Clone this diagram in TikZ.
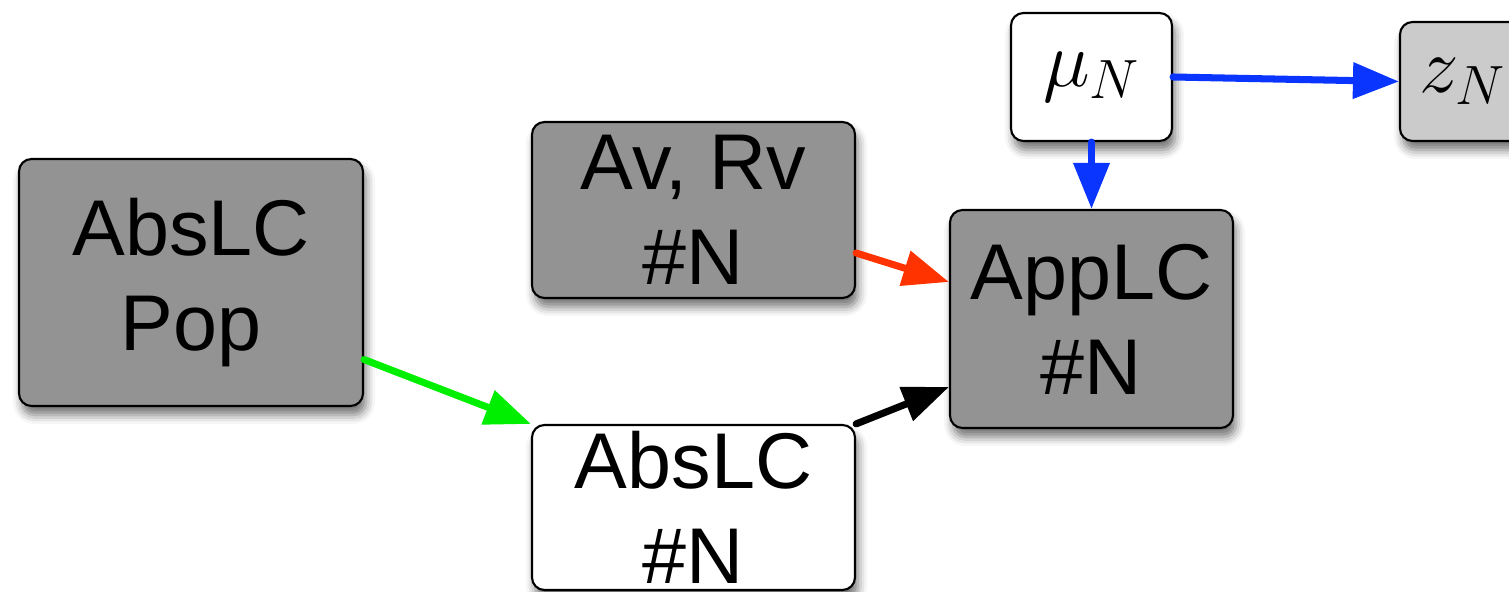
\documentclass[tikz,border=0pt]{standalone}
\usepackage{fix-cm}
\usepackage{fontspec}
\setmainfont{Liberation Sans}
\usepackage{tikz}
\usetikzlibrary{arrows.meta,shadows.blur}
\definecolor{boxgray}{HTML}{939393}
\definecolor{boxlight}{HTML}{CBCBCB}
\definecolor{arrowgreen}{HTML}{00EE00}
\definecolor{arrowred}{HTML}{FF3300}
\definecolor{arrowblue}{HTML}{0A35FF}

\begin{document}
\begin{tikzpicture}[
    box/.style={draw=black, line width=1.2pt, rounded corners=0.25cm, inner sep=0pt, align=center,
      font={\fontsize{45}{54}\selectfont},
      blur shadow={shadow xshift=0.6mm, shadow yshift=-1.8mm, shadow blur radius=1.8mm, shadow opacity=55}},
    link/.style={line width=4pt, line cap=round, -{Triangle[length=0.92cm,width=0.7cm]}}
  ]
    \useasboundingbox (0,0) rectangle (30.18,11.84);
    % boxes
    \node[box, fill=boxgray, minimum width=6.88cm, minimum height=4.94cm] (pop) at (3.82,6.19) {AbsLC\\Pop};
    \node[box, fill=boxgray, minimum width=6.46cm, minimum height=3.52cm] (avrv) at (13.87,7.64) {Av, Rv\\\#N};
    \node[box, fill=white, minimum width=6.46cm, minimum height=3.30cm] (abs) at (13.87,1.69) {AbsLC\\\#N};
    \node[box, fill=boxgray, minimum width=5.66cm, minimum height=4.36cm] (app) at (21.83,5.46) {AppLC\\\#N};
    \node[box, fill=white, minimum width=3.22cm, minimum height=2.56cm] (mu) at (21.83,10.30) {$\mu_N$};
    \node[box, fill=boxlight, minimum width=2.52cm, minimum height=2.38cm] (zn) at (29.26,10.21) {$z_N$};
    % arrows
    \draw[link, arrowgreen] (pop.-24) -- (abs.north west);
    \draw[link, black] (abs.north east) -- ([yshift=-1.36cm]app.west);
    \draw[link, arrowred] ([yshift=-0.86cm]avrv.east) -- ([yshift=0.74cm]app.west);
    \draw[link, arrowblue] (mu.south) -- (app.north);
    \draw[link, arrowblue] (mu.east) -- (zn.west);
  \end{tikzpicture}
\end{document}
